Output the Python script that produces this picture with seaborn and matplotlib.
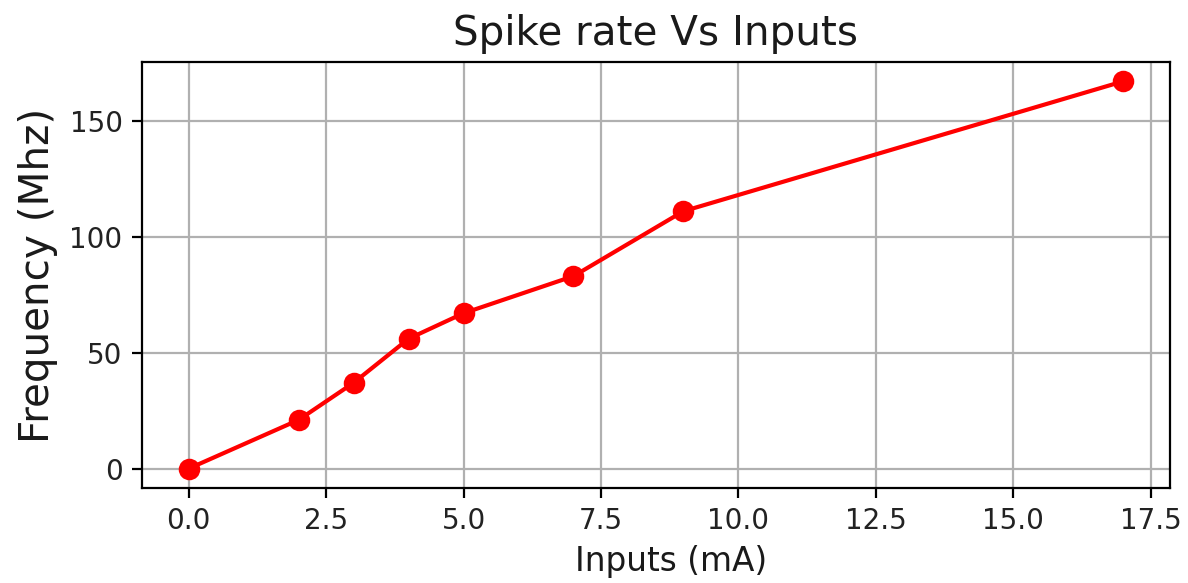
import matplotlib
matplotlib.use("Agg")
import matplotlib.pyplot as plt
import seaborn as sns
import pandas as pd

inputs_ma = [0, 2, 3, 4, 5, 7, 9, 17]
freq_mhz = [0, 21, 37, 56, 67, 83, 111, 167]

sns.set_style("ticks")
plt.rcParams['font.family'] = ['DejaVu Sans']

df = pd.DataFrame({"Inputs (mA)": inputs_ma, "Frequency (Mhz)": freq_mhz})

fig = plt.figure(figsize=(5.94, 2.915), dpi=200)
ax = fig.add_axes([0.1195, 0.163, 0.8653, 0.7307])
sns.lineplot(data=df, x="Inputs (mA)", y="Frequency (Mhz)", ax=ax, color="red",
             marker="o", markersize=7, markeredgecolor="red", linewidth=1.5)
ax.grid(True, color="#b0b0b0", linewidth=0.8)
ax.set_axisbelow(True)
for s in ax.spines.values():
    s.set_color("black")
    s.set_linewidth(0.8)
ax.tick_params(axis="both", labelsize=10, length=3.5, width=0.8, colors="black",
               labelcolor="#222222")
ax.set_xticks([0, 2.5, 5, 7.5, 10, 12.5, 15, 17.5])
ax.set_yticks([0, 50, 100, 150])
ax.set_title("Spike rate Vs Inputs", fontsize=14.6, color="#1a1a1a")
ax.set_xlabel("Inputs (mA)", fontsize=11.8, color="#1a1a1a")
ax.xaxis.set_label_coords(0.515, -0.135)
ax.set_ylabel("Frequency (Mhz)", fontsize=14.6, color="#1a1a1a")
fig.savefig("out.png", dpi=200)
